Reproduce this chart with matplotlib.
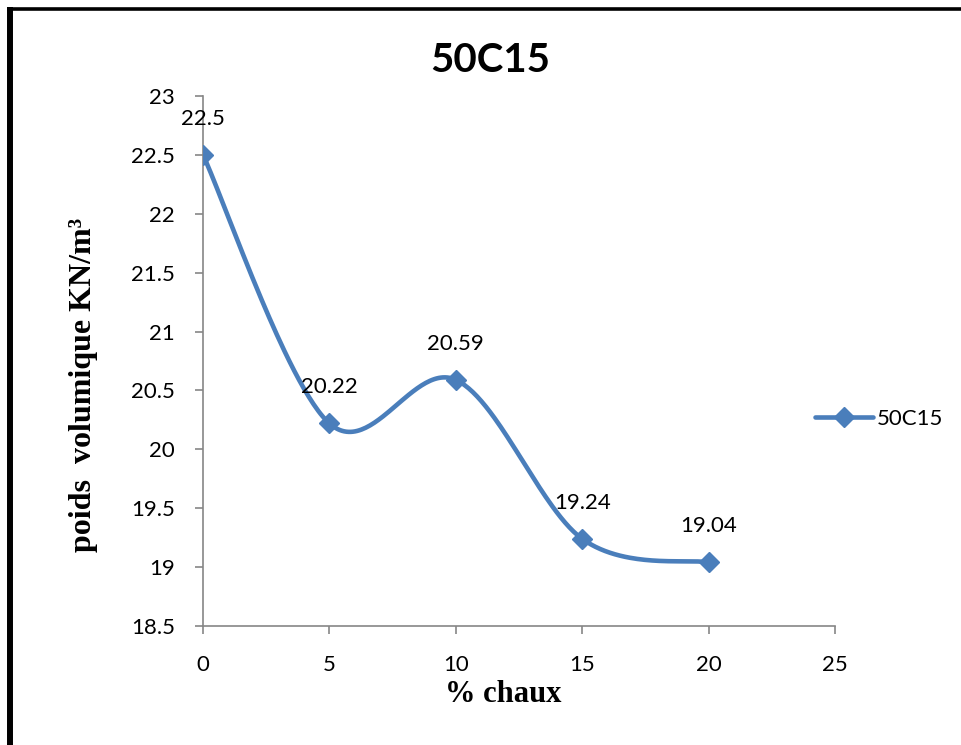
import numpy as np
import matplotlib
matplotlib.use("Agg")
import matplotlib.pyplot as plt
from matplotlib.lines import Line2D
from matplotlib.ticker import FixedLocator, FixedFormatter

# Data
chaux = [0, 5, 10, 15, 20]
poids = [22.5, 20.22, 20.59, 19.24, 19.04]
series_name = "50C15"
x_ticks = [0, 5, 10, 15, 20, 25]
y_ticks = [18.5, 19, 19.5, 20, 20.5, 21, 21.5, 22, 22.5, 23]
y_tick_labels = ["18.5", "19", "19.5", "20", "20.5", "21", "21.5", "22", "22.5", "23"]

W, H, DPI = 962, 745, 100
BLUE = "#4A7EBB"
GRAY = "#868686"
SANS = ["Lato", "DejaVu Sans"]
SERIF = ["Liberation Serif", "DejaVu Serif"]
FS = 16

fig = plt.figure(figsize=(W / DPI, H / DPI), dpi=DPI)
fig.patch.set_facecolor("white")

# axes placed in pixel terms
L, R, T, B = 203, 835, 96, 626
ax = fig.add_axes([L / W, 1 - B / H, (R - L) / W, (B - T) / H])
ax.set_xlim(0, 25)
ax.set_ylim(18.5, 23)

for s in ("top", "right"):
    ax.spines[s].set_visible(False)
for s in ("left", "bottom"):
    ax.spines[s].set_color(GRAY)
    ax.spines[s].set_linewidth(1.2)

ax.xaxis.set_major_locator(FixedLocator(x_ticks))
ax.xaxis.set_major_formatter(FixedFormatter([str(v) for v in x_ticks]))
ax.yaxis.set_major_locator(FixedLocator(y_ticks))
ax.yaxis.set_major_formatter(FixedFormatter(y_tick_labels))
ax.tick_params(axis="both", direction="out", length=6, width=1.2, color=GRAY,
               labelsize=FS, labelcolor="black")
ax.tick_params(axis="x", pad=15)
ax.tick_params(axis="y", pad=14)
for lab in ax.get_xticklabels() + ax.get_yticklabels():
    lab.set_family(SANS)


def smooth_curve(xs, ys, n=60):
    """Bezier smoothing in screen space (Catmull-Rom style control points)."""
    pts = ax.transData.transform(np.column_stack([xs, ys]))
    out = []
    m = len(pts)
    for i in range(m - 1):
        p0 = pts[max(i - 1, 0)]
        p1 = pts[i]
        p2 = pts[i + 1]
        p3 = pts[min(i + 2, m - 1)]
        c1 = p1 + (p2 - p0) / 6.0
        c2 = p2 - (p3 - p1) / 6.0
        t = np.linspace(0, 1, n)[:, None]
        seg = ((1 - t) ** 3) * p1 + 3 * ((1 - t) ** 2) * t * c1 + 3 * (1 - t) * t ** 2 * c2 + t ** 3 * p2
        out.append(seg if i == 0 else seg[1:])
    curve = np.vstack(out)
    return ax.transData.inverted().transform(curve)


curve = smooth_curve(chaux, poids)
ax.plot(curve[:, 0], curve[:, 1], color=BLUE, lw=3.3, solid_capstyle="round", zorder=3)
ax.plot(chaux, poids, linestyle="none", marker="D", markersize=10,
        color=BLUE, markeredgecolor=BLUE, zorder=4)

for xv, yv in zip(chaux, poids):
    ax.annotate(f"{yv:g}", (xv, yv), xytext=(0, 26), textcoords="offset points",
                ha="center", va="center", fontsize=FS, family=SANS, color="black",
                annotation_clip=False)

# legend entry
handle = Line2D([], [], color=BLUE, lw=3.3, marker="D", markersize=10,
                solid_capstyle="round")
fig.legend([handle], [series_name], loc="center left",
           bbox_to_anchor=(815 / W, 1 - 419 / H), frameon=False,
           prop={"family": SANS, "size": FS}, handlelength=2.6,
           handletextpad=0.2, borderpad=0, borderaxespad=0)

# title and axis labels
fig.text(490 / W, 1 - 61 / H, series_name, ha="center", va="center",
         fontsize=29, fontweight="bold", family=SANS)
fig.text(503 / W, 1 - 695 / H, "% chaux", ha="center", va="center",
         fontsize=22, fontweight="bold", family=SERIF)
fig.text(84 / W, 1 - 385 / H, "poids  volumique KN/m³", ha="center",
         va="center", rotation=90, fontsize=23, fontweight="bold", family=SERIF)

# outer frame (left and top edges)
fig.add_artist(Line2D([10 / W, 10 / W], [0, 1 - 7 / H], transform=fig.transFigure,
                      color="black", lw=4.3, solid_capstyle="butt"))
fig.add_artist(Line2D([7 / W, 1], [1 - 8.5 / H, 1 - 8.5 / H], transform=fig.transFigure,
                      color="black", lw=2.6, solid_capstyle="butt"))

fig.savefig("out.png", dpi=DPI, facecolor="white")
